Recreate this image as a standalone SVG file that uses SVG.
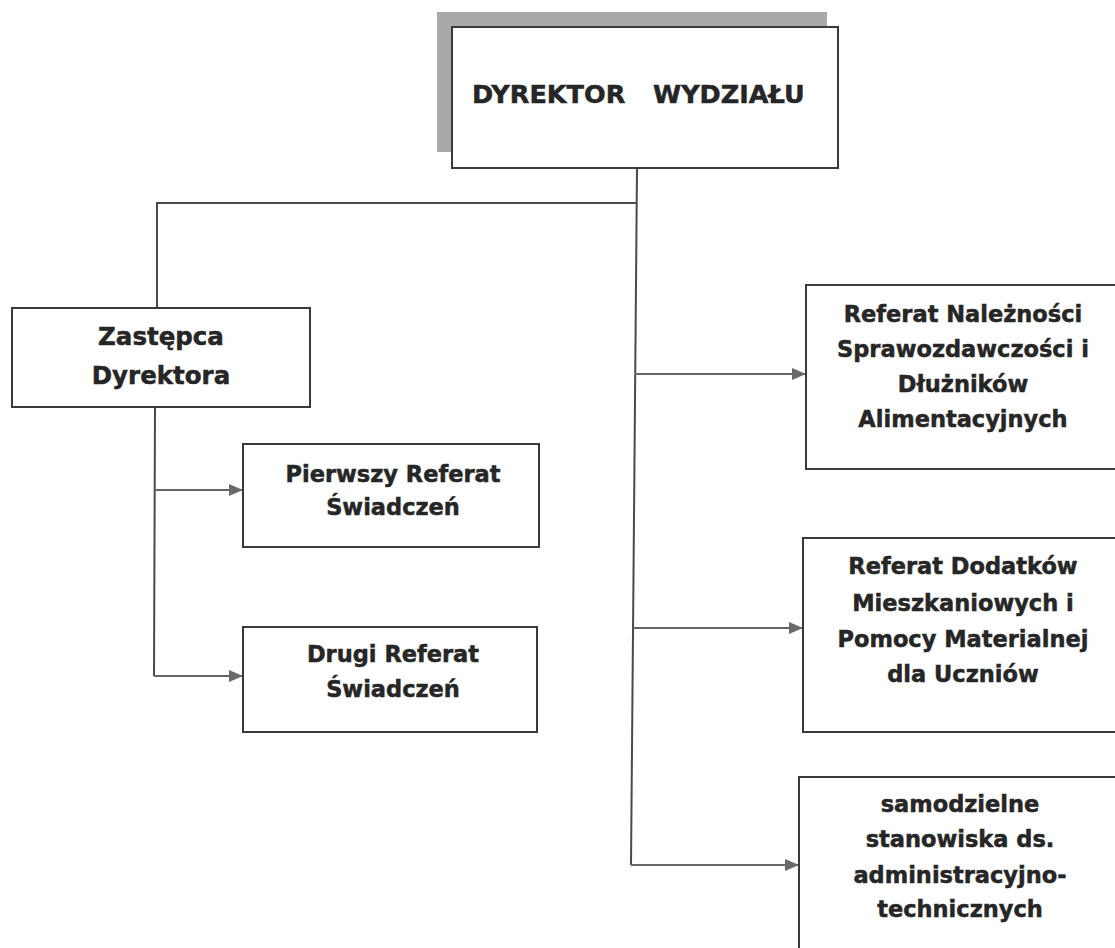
<svg xmlns="http://www.w3.org/2000/svg" width="1115" height="948" viewBox="0 0 1115 948">
<style>
.box{fill:#fff;stroke:#3a3a3a;stroke-width:2}
.t{font-family:"DejaVu Sans",Verdana,sans-serif;font-weight:bold;fill:#262626;stroke:#262626;stroke-width:0.5;text-anchor:middle}
.s{font-size:22.5px}
.c{fill:none;stroke:#4a4a4a;stroke-width:2}
.a{fill:none;stroke:#666;stroke-width:2.2}
</style>
<defs>
<marker id="ah" markerWidth="14" markerHeight="12" refX="14" refY="6" orient="auto" markerUnits="userSpaceOnUse">
<path d="M0,0 L14,6 L0,12 Z" fill="#6a6a6a"/>
</marker>
</defs>
<rect width="1115" height="948" fill="#fff"/>
<g id="connectors">
<line class="c" x1="637" y1="168" x2="631" y2="865"/>
<polyline class="c" points="637,203 157,203 157,308"/>
<line class="c" x1="155" y1="407" x2="154" y2="676"/>
<line class="a" x1="155" y1="490" x2="243" y2="490" marker-end="url(#ah)"/>
<line class="a" x1="154" y1="676" x2="243" y2="676" marker-end="url(#ah)"/>
<line class="a" x1="635" y1="374" x2="806" y2="374" marker-end="url(#ah)"/>
<line class="a" x1="633" y1="628" x2="803" y2="628" marker-end="url(#ah)"/>
<line class="a" x1="631" y1="865" x2="799" y2="865" marker-end="url(#ah)"/>
</g>
<g id="dyrektor">
<rect x="437" y="12" width="390" height="140" fill="#a9a9a9"/>
<rect class="box" x="452" y="27" width="386" height="141"/>
<text class="t" style="text-anchor:start;font-size:25.5px" x="472" y="103">DYREKTOR</text>
<text class="t" style="text-anchor:start;font-size:25.5px" x="653" y="103">WYDZIAŁU</text>
</g>
<g id="zastepca">
<rect class="box" x="12" y="308" width="298" height="99"/>
<text class="t" style="font-size:24.5px" x="161" y="345">Zastępca</text>
<text class="t" style="font-size:24.5px" x="161" y="384">Dyrektora</text>
</g>
<g id="pierwszy">
<rect class="box" x="243" y="444" width="296" height="103"/>
<text class="t s" x="393" y="482">Pierwszy Referat</text>
<text class="t s" x="393" y="515">Świadczeń</text>
</g>
<g id="drugi">
<rect class="box" x="243" y="627" width="294" height="105"/>
<text class="t s" x="393" y="662">Drugi Referat</text>
<text class="t s" x="393" y="697">Świadczeń</text>
</g>
<g id="naleznosci">
<rect class="box" x="806" y="285" width="320" height="184"/>
<text class="t s" x="963" y="322">Referat Należności</text>
<text class="t s" x="963" y="357">Sprawozdawczości i</text>
<text class="t s" x="963" y="392">Dłużników</text>
<text class="t s" x="963" y="427">Alimentacyjnych</text>
</g>
<g id="dodatki">
<rect class="box" x="803" y="538" width="323" height="194"/>
<text class="t s" x="963" y="574">Referat Dodatków</text>
<text class="t s" x="963" y="611">Mieszkaniowych i</text>
<text class="t s" x="963" y="647">Pomocy Materialnej</text>
<text class="t s" x="963" y="682">dla Uczniów</text>
</g>
<g id="samodzielne">
<rect class="box" x="799" y="777" width="327" height="190"/>
<text class="t s" x="960" y="812">samodzielne</text>
<text class="t s" x="960" y="847">stanowiska ds.</text>
<text class="t s" x="960" y="883">administracyjno-</text>
<text class="t s" x="960" y="917">technicznych</text>
</g>
</svg>
